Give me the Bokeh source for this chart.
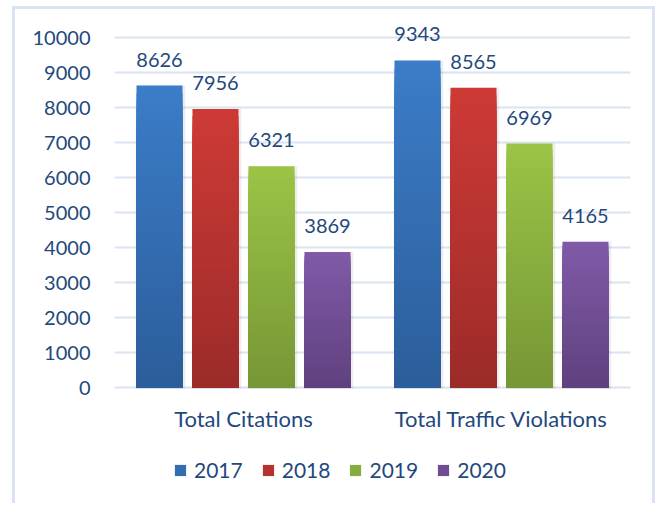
from bokeh.plotting import figure
from bokeh.models import (ColumnDataSource, FactorRange, Legend, LegendItem,
                          FixedTicker)
from bokeh.transform import dodge
from bokeh.embed import file_html
from bokeh.resources import INLINE
from bokeh.core.properties import value

categories = ["Total Citations", "Total Traffic Violations"]
years = ["2017", "2018", "2019", "2020"]
values_2017 = [8626, 9343]
values_2018 = [7956, 8565]
values_2019 = [6321, 6969]
values_2020 = [3869, 4165]
y_ticks = [0, 1000, 2000, 3000, 4000, 5000, 6000, 7000, 8000, 9000, 10000]

series = [values_2017, values_2018, values_2019, values_2020]
top_colors = [(59, 125, 201), (206, 58, 54), (155, 196, 70), (128, 90, 168)]
bottom_colors = [(44, 93, 154), (155, 43, 41), (118, 150, 53), (96, 65, 126)]

TEXT = "#1f497d"
FONT = "Lato"
GRID = "#d9e3f1"

p = figure(x_range=FactorRange(factors=categories, range_padding=0),
           y_range=(-3400, 10514.3), width=643, height=497,
           output_backend="svg", toolbar_location=None,
           min_border_left=99, min_border_right=28,
           min_border_top=10, min_border_bottom=0)
p.styles = {"border-left": "3px solid #dae3f1", "border-top": "3px solid #dae3f1",
            "border-right": "3px solid #dae3f1", "margin-left": "12px",
            "margin-top": "6px"}
p.outline_line_color = None
p.xgrid.grid_line_color = None
p.ygrid.grid_line_color = GRID
p.ygrid.grid_line_width = 2
p.yaxis.ticker = FixedTicker(ticks=y_ticks)
p.xaxis.visible = False

ax = p.yaxis
ax.axis_line_color = None
ax.major_tick_line_color = None
ax.minor_tick_line_color = None
ax.major_label_text_font = FONT
ax.major_label_text_font_size = "20px"
ax.major_label_text_color = TEXT
ax.major_label_standoff = 18

step = 0.217
bar_w = 0.178
offsets = [(-1.5 + i) * step for i in range(4)]
N = 40
items = []
for j, vals in enumerate(series):
    xs, tops, cols = [], [], []
    for c, v in zip(categories, vals):
        for k in range(N - 1, -1, -1):
            t = (k + 0.5) / N  # 0 bottom -> 1 top
            col = tuple(int(round(bottom_colors[j][m] + (top_colors[j][m] - bottom_colors[j][m]) * t)) for m in range(3))
            xs.append(c)
            tops.append(v * (k + 1) / N)
            cols.append("#%02x%02x%02x" % col)
    sh = ColumnDataSource(dict(x=categories, top=vals))
    p.vbar(x=dodge("x", offsets[j] + 0.004, range=p.x_range), top="top", bottom=-45,
           width=bar_w + 0.014, source=sh, fill_color="black", fill_alpha=0.07,
           line_color=None)
    src = ColumnDataSource(dict(x=xs, top=tops, color=cols))
    r = p.vbar(x=dodge("x", offsets[j], range=p.x_range), top="top", bottom=0,
               width=bar_w, source=src, fill_color="color", line_color=None)
    items.append(LegendItem(label=years[j], renderers=[r], index=N // 2))
    lsrc = ColumnDataSource(dict(x=categories, y=vals, t=[str(v) for v in vals]))
    p.text(x=dodge("x", offsets[j], range=p.x_range), y="y", text="t", source=lsrc,
           text_align="center", text_baseline="alphabetic", y_offset=-26,
           text_font=value(FONT), text_font_size="20px", text_color=TEXT)

csrc = ColumnDataSource(dict(x=categories, y=[0, 0]))
p.text(x="x", y="y", text="x", source=csrc, text_align="center",
       text_baseline="middle", y_offset=31, text_font=value(FONT),
       text_font_size="22px", text_color=TEXT)

legend = Legend(items=items, orientation="horizontal", location=(59, 24),
                glyph_width=14, glyph_height=14, label_standoff=7, spacing=18,
                label_text_font=FONT, label_text_font_size="21px",
                label_text_color=TEXT, border_line_color=None,
                background_fill_alpha=0, margin=0, padding=4)
p.add_layout(legend, "center")

open("out.html", "w").write(file_html(p, INLINE))
